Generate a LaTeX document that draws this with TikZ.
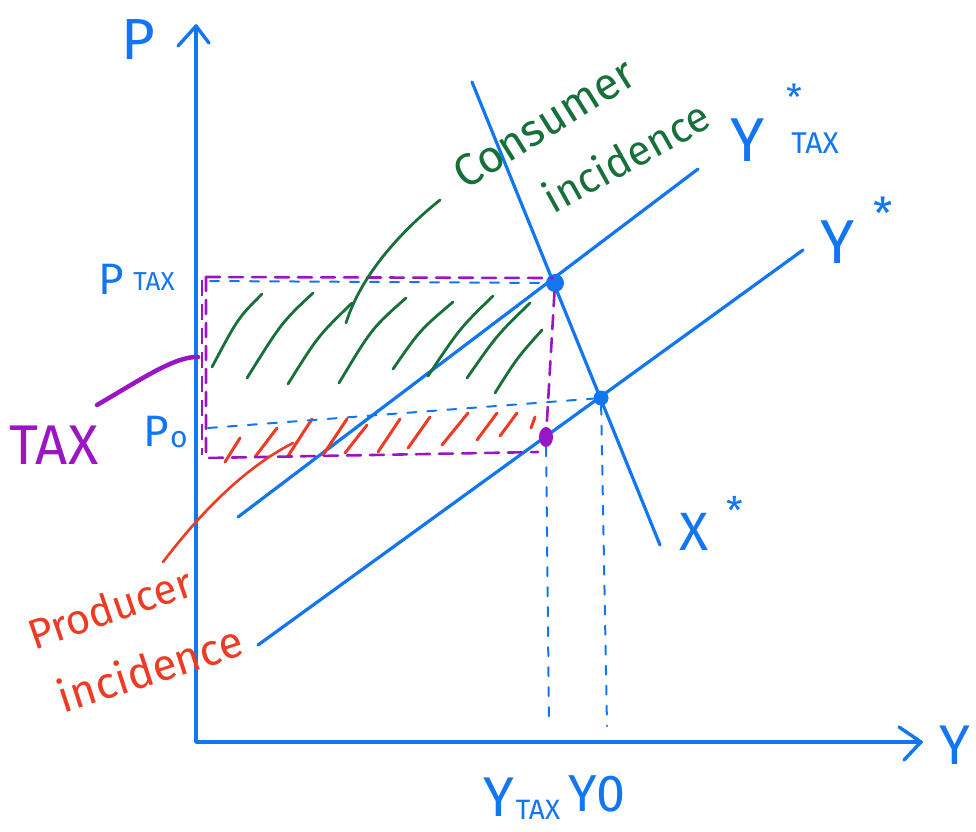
\documentclass[tikz,border=0pt]{standalone}
\usepackage{fontspec}
\usetikzlibrary{shapes.geometric}
\setmainfont{Fira Sans}
\definecolor{cblue}{HTML}{1276F2}
\definecolor{cgreen}{HTML}{17703A}
\definecolor{cred}{HTML}{EE3B24}
\definecolor{cpurple}{HTML}{9A16C4}
\newcommand{\fs}[1]{\fontsize{#1}{#1}\selectfont}
\begin{document}
\begin{tikzpicture}[x=1pt,y=-1pt,
  ax/.style={cblue,line width=3.4pt,line cap=round,line join=round},
  curve/.style={cblue,line width=3.2pt,line cap=round},
  bdash/.style={cblue,line width=2pt,line cap=round,dash pattern=on 9pt off 11pt},
  pdash/.style={cpurple,line width=2.6pt,line cap=round,dash pattern=on 14pt off 9pt},
  ghatch/.style={cgreen,line width=2.8pt,line cap=round},
  rhatch/.style={cred,line width=3pt,line cap=round},
  dotb/.style={circle,fill=cblue,inner sep=0pt},
  lblb/.style={cblue,inner sep=0pt},
  every node/.style={inner sep=0pt}]
\useasboundingbox (0,0) rectangle (976,831);

% axes
\coordinate (Ptop) at (196,26);
\coordinate (O) at (196,742);
\coordinate (Yend) at (921,742);
\draw[ax] (Ptop) -- (O) -- (Yend);
\coordinate (pa1) at (178,46); \coordinate (pa2) at (209,43);
\draw[ax] (pa1) -- (Ptop) -- (pa2);
\coordinate (ya1) at (899,727); \coordinate (ya2) at (904,760);
\draw[ax] (ya1) -- (Yend) -- (ya2);
\node[lblb,font=\fs{58}] (Plab) at (138,40) {P};
\node[lblb,font=\fs{56}] (Ylab) at (955,745) {Y};

% curves
\coordinate (Xa) at (472,82); \coordinate (Xb) at (660,545);
\draw[curve] (Xa) -- (Xb);
\coordinate (Ta) at (238,517); \coordinate (Tb) at (698,169);
\draw[curve] (Ta) -- (Tb);
\coordinate (Sa) at (258,645); \coordinate (Sb) at (803,250);
\draw[curve] (Sa) -- (Sb);

% green hatching (consumer)
\draw[ghatch] (262,294) .. controls (238,318) .. (212,367);
\draw[ghatch] (313,293) .. controls (282,322) .. (247,378);
\draw[ghatch] (352,303) .. controls (318,336) .. (288,384);
\draw[ghatch] (406,298) .. controls (372,328) .. (339,383);
\draw[ghatch] (453,302) .. controls (420,330) .. (393,369);
\draw[ghatch] (493,296) .. controls (460,328) .. (428,376);
\draw[ghatch] (530,303) .. controls (497,335) .. (467,378);
\draw[ghatch] (542,330) .. controls (517,358) .. (495,393);

% red hatching (producer)
\draw[rhatch] (240,438) -- (225,462);
\draw[rhatch] (277,428) -- (255,457);
\draw[rhatch] (312,419) -- (288,456);
\draw[rhatch] (347,419) -- (323,455);
\draw[rhatch] (367,425) -- (345,453);
\draw[rhatch] (400,419) -- (378,452);
\draw[rhatch] (430,417) -- (408,448);
\draw[rhatch] (468,413) -- (442,445);
\draw[rhatch] (497,413) -- (477,440);
\draw[rhatch] (517,413) -- (500,436);
\draw[rhatch] (535,417) -- (531,428);

% equilibrium points
\node[dotb,minimum size=18pt] (Etax) at (555,283) {};
\node[dotb,minimum size=15pt] (E0) at (601,398) {};
\node[ellipse,fill=cpurple,minimum width=14pt,minimum height=20pt] (Eprod) at (546,437) {};

% dashed guide lines
\coordinate (rtl) at (206,277); \coordinate (rtr) at (553,278);
\coordinate (rbl) at (206,458); \coordinate (rbr) at (538,452);
\coordinate (rtl2) at (202,280); \coordinate (rbl2) at (202,455);
\draw[pdash] (rtl) -- (rtr);
\draw[pdash] (rtl) -- (rbl) -- (rbr);
\draw[cpurple,line width=1.8pt,dash pattern=on 16pt off 8pt] (rtl2) -- (rbl2);
\draw[pdash] (Etax) -- (Eprod);
\coordinate (bl1) at (210,281);
\draw[bdash] (bl1) -- (Etax);
\coordinate (bl2) at (208,428);
\draw[bdash] (bl2) -- (E0);
\coordinate (bv1) at (549,724);
\draw[bdash] (Eprod) -- (bv1);
\coordinate (bv2) at (607,726);
\draw[bdash] (E0) -- (bv2);

% axis value labels
\node[lblb,font=\fs{44}] (Ptax) at (111,279) {P};
\node[lblb,font=\fs{26}] (Ptaxs) at (154,282) {TAX};
\node[lblb,font=\fs{44}] (P0) at (156,431) {P};
\node[lblb,font=\fs{30}] (P0s) at (179,440) {o};
\node[lblb,font=\fs{56}] (Ytx) at (499,797) {Y};
\node[lblb,font=\fs{28}] (Ytxs) at (538,810) {TAX};
\node[lblb,font=\fs{52}] (Y0) at (597,794) {Y0};

% curve labels
\node[lblb,font=\fs{62}] (YTl) at (748,140) {Y};
\node[lblb,font=\fs{36}] (YTst) at (794,97) {*};
\node[lblb,font=\fs{30}] (YTs) at (815,143) {TAX};
\node[lblb,font=\fs{62}] (YSl) at (838,242) {Y};
\node[lblb,font=\fs{44}] (YSst) at (883,213) {*};
\node[lblb,font=\fs{54}] (XSl) at (694,532) {X};
\node[lblb,font=\fs{38}] (XSst) at (735,510) {*};

% TAX pointer
\node[cpurple,font=\fs{56}] (TAXl) at (54,445) {TAX};
\coordinate (taxend) at (198,357);
\coordinate (taxst) at (97,405);
\draw[cpurple,line width=4.5pt,line cap=round] (taxst) .. controls (140,380) and (175,356) .. (taxend);

% consumer incidence
\node[cgreen,font=\fs{45},rotate=32] (Cons) at (544,123) {Consumer};
\node[cgreen,font=\fs{42},rotate=29] (Cinc) at (626,156) {incidence};
\coordinate (gst) at (440,200);
\coordinate (gend) at (346,323);
\draw[ghatch] (gst) .. controls (405,228) and (362,272) .. (gend);

% producer incidence
\node[cred,font=\fs{42},rotate=19] (Prod) at (110,608) {Producer};
\node[cred,font=\fs{44},rotate=18] (Pinc) at (150,668) {incidence};
\coordinate (rst) at (163,562);
\coordinate (rend) at (293,443);
\draw[cred,line width=2.6pt,line cap=round] (rst) .. controls (195,520) and (240,470) .. (rend);
\end{tikzpicture}
\end{document}
